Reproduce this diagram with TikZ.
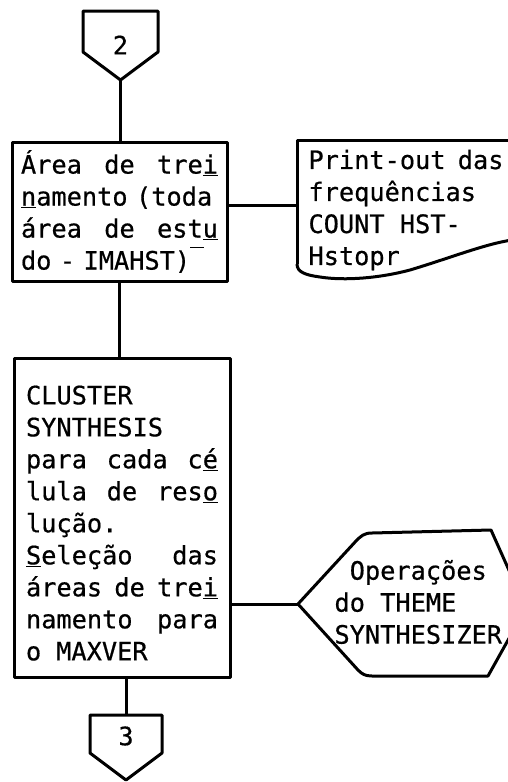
\documentclass[tikz,border=0pt]{standalone}
\usepackage{fontspec}
\setmonofont{DejaVu Sans Mono}[FakeBold=0.6]
\newcommand{\und}[1]{\underline{#1}}
\newcommand{\jline}[2]{\leavevmode\hbox to #1{#2}}
\begin{document}
\begin{tikzpicture}[x=1pt,y=-1pt,line width=3pt,line join=round,
  txt/.style={font=\ttfamily\fontsize{25.3}{32}\selectfont,inner sep=0pt,align=left},
  boxst/.style={draw,txt,inner ysep=0pt,line width=3pt},
  conn/.style={line width=3pt}]
\useasboundingbox (0,0) rectangle (507,782);
% off-page connector 2
\node[txt] (c2) at (120.5,45) {2};
\draw (83,11) -- (158,11) -- (158,52) -- (120.5,80) -- (83,52) -- cycle;
\coordinate (c2b) at (120.5,80);
% box 1
\node[boxst,text width=197pt,inner xsep=9pt,minimum height=139pt] (b1) at (119.5,211.5)
 {\jline{197pt}{Área\hfill de\hfill tre\und{i}}\\
  \und{n}amento (toda\\
  \jline{197pt}{área\hfill de\hfill est\und{u}}\\
  do - IMAHST)\rule[0.85em]{0.55em}{1.4pt}};
% print-out (document)
\node[txt,anchor=west] (po) at (307,210)
 {Print-out\hspace{-3pt} das\\frequências\\COUNT HST-\\Hstopr};
\draw (297,264) -- (297,140) -- (512,140);
\draw (297,264) .. controls (297,272) and (305,275) .. (320,277)
  .. controls (345,281) and (380,278) .. (410,270)
  .. controls (450,258) and (485,244) .. (512,240);
\coordinate (poL) at (297,205);
% box 2
\node[boxst,text width=192pt,inner xsep=12pt,minimum height=319pt] (b2) at (122,517.5)
 {\rule{0pt}{30pt}CLUSTER\\
  SYNTHESIS\\
  \jline{192pt}{para\hfill cada\hfill c\und{é}}\\
  \jline{192pt}{lula\hfill de\hfill res\und{o}}\\
  lução.\\
  \jline{192pt}{\und{S}eleção\hfill das}\\
  \jline{192pt}{áreas\hss de\hss tre\und{i}}\\
  \jline{192pt}{namento\hfill para}\\
  o\hspace{15pt}MAXVER};
% display shape
\node[txt,anchor=west] (hx) at (333,602)
 {\phantom{d}Operações\\do THEME\\SYNTHESIZER};
\draw (512,577) -- (491,530) -- (372,533) .. controls (364,533) and (361,536) .. (356,541) -- (298,604)
  -- (358,670) .. controls (362,674) and (365,676) .. (372,676) -- (488,676) -- (512,633);
\coordinate (hxL) at (298,604);
% off-page connector 3
\node[txt] (c3) at (126,736) {3};
\draw (90,715) -- (162,715) -- (162,753) -- (126,780) -- (90,753) -- cycle;
\coordinate (c3t) at (126,715);
% connectors
\draw[conn] (c2b) -- (c2b |- b1.north);
\draw[conn] (b1.south) -- (b1.south |- b2.north);
\draw[conn] (b1.east |- poL) -- (poL);
\draw[conn] (b2.east |- hxL) -- (hxL);
\draw[conn] (b2.south -| c3t) -- (c3t);
\end{tikzpicture}
\end{document}
